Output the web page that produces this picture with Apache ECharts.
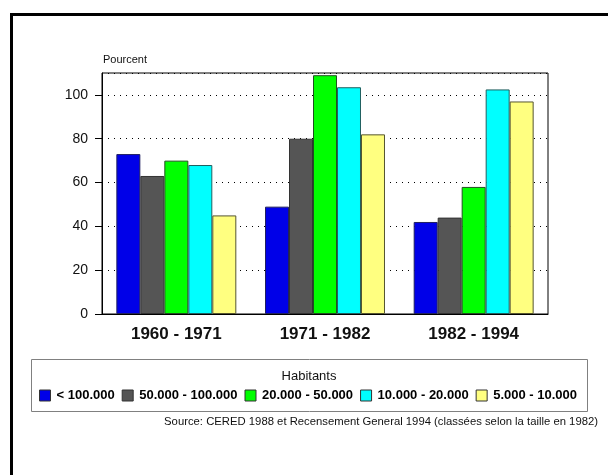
<!DOCTYPE html>
<html>
<head>
<meta charset="utf-8">
<script src="https://cdn.jsdelivr.net/npm/echarts@6/dist/echarts.min.js"></script>
<style>
html,body{margin:0;padding:0;background:#fff;}
#chart{width:608px;height:475px;}
</style>
</head>
<body>
<div id="chart"></div>
<script>
var categories = ['1960 - 1971', '1971 - 1982', '1982 - 1994'];
var seriesNames = ['< 100.000', '50.000 - 100.000', '20.000 - 50.000', '10.000 - 20.000', '5.000 - 10.000'];
var popOver100k = [73, 49, 42];
var pop50kTo100k = [63, 80, 44];
var pop20kTo50k = [70, 109, 58];
var pop10kTo20k = [68, 103.5, 102.5];
var pop5kTo10k = [45, 82, 97];
var yTicks = [0, 20, 40, 60, 80, 100];

var seriesValues = [popOver100k, pop50kTo100k, pop20kTo50k, pop10kTo20k, pop5kTo10k];
var colors = ['#0000E8', '#555555', '#00FF00', '#00FFFF', '#FFFF80'];
var borders = ['#202060', '#333333', '#205020', '#206060', '#555530'];
var FONT = '"Liberation Sans", Arial, sans-serif';

var chart = echarts.init(document.getElementById('chart'), null, {renderer: 'canvas'});

var series = seriesNames.map(function (n, i) {
  return {
    name: n,
    type: 'bar',
    data: seriesValues[i],
    barGap: '0%',
    barCategoryGap: '19.3%',
    itemStyle: {color: colors[i], borderColor: borders[i], borderWidth: 1},
    emphasis: {disabled: true}
  };
});

chart.setOption({
  animation: false,
  backgroundColor: '#fff',
  textStyle: {fontFamily: FONT},
  grid: {left: 102, top: 73, width: 446, height: 241, show: true, borderColor: '#000', borderWidth: 1, backgroundColor: 'transparent'},
  xAxis: {
    type: 'category',
    data: categories,
    axisLine: {lineStyle: {color: '#000', width: 1}},
    axisTick: {alignWithLabel: true, length: 5, lineStyle: {color: '#000'}},
    axisLabel: {color: '#111', fontSize: 17, fontWeight: 'bold', fontFamily: FONT, margin: 12}
  },
  yAxis: {
    type: 'value',
    min: 0, max: 110, interval: 20,
    axisLine: {show: true, lineStyle: {color: '#000', width: 1}},
    axisTick: {show: true, length: 7, lineStyle: {color: '#000'}},
    axisLabel: {
      color: '#111', fontSize: 14, fontFamily: FONT, margin: 14, showMaxLabel: false,
      formatter: function (v) { return yTicks.indexOf(v) >= 0 ? String(v) : ''; }
    },
    splitLine: {show: true, lineStyle: {color: '#000', width: 1, type: [1, 5]}}
  },
  legend: {
    left: 39, top: 389, padding: 0,
    itemWidth: 11, itemHeight: 11, itemGap: 7,
    icon: 'rect',
    data: seriesNames,
    itemStyle: {borderColor: '#333', borderWidth: 1},
    textStyle: {fontSize: 13, fontWeight: 'bold', color: '#000', fontFamily: FONT, padding: [0, 0, 0, 1]},
    selectedMode: false
  },
  graphic: [
    {type: 'rect', silent: true, z: 100, shape: {x: 11.5, y: 14.5, width: 800, height: 800},
     style: {fill: 'none', stroke: '#000', lineWidth: 3}},
    {type: 'text', silent: true, x: 103, y: 60,
     style: {text: 'Pourcent', fontSize: 11, fontFamily: FONT, fill: '#111', verticalAlign: 'middle', align: 'left'}},
    {type: 'rect', silent: true, shape: {x: 31.5, y: 359.5, width: 556, height: 52},
     style: {fill: 'none', stroke: '#808080', lineWidth: 1}},
    {type: 'text', silent: true, x: 309, y: 376,
     style: {text: 'Habitants', fontSize: 13, fontFamily: FONT, fill: '#111', align: 'center', verticalAlign: 'middle'}},
    {type: 'text', silent: true, x: 598, y: 422,
     style: {text: 'Source: CERED 1988 et Recensement General 1994 (classées selon la taille en 1982)', fontSize: 11.3, fontFamily: FONT, fill: '#111', align: 'right', verticalAlign: 'middle'}}
  ],
  series: series
});
</script>
</body>
</html>
